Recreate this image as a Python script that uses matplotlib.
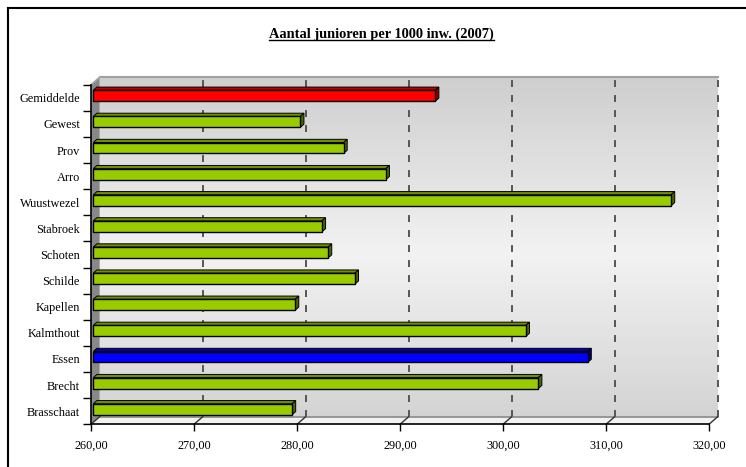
import matplotlib
matplotlib.use("Agg")
import matplotlib.pyplot as plt
import numpy as np
from matplotlib.lines import Line2D
from matplotlib.patches import Polygon
from matplotlib.transforms import IdentityTransform

plt.rcParams["font.family"] = ["Liberation Serif", "DejaVu Serif"]
plt.rcParams["lines.scale_dashes"] = False

# Data, bottom to top as drawn
categories = ["Brasschaat", "Brecht", "Essen", "Kalmthout", "Kapellen", "Schilde",
              "Schoten", "Stabroek", "Wuustwezel", "Arro", "Prov", "Gewest", "Gemiddelde"]
values = [279.3, 303.2, 308.0, 302.0, 279.6, 285.4, 282.8, 282.2, 316.1, 288.4, 284.3, 280.1, 293.2]
x_ticks = [260, 270, 280, 290, 300, 310, 320]
title = "Aantal junioren per 1000 inw. (2007)"

# front / top / side colours for the pseudo-3D bars
palette = {
    "green": ("#99cc00", "#6f8f00", "#4d6600"),
    "red": ("#ff0000", "#c00000", "#8c0000"),
    "blue": ("#0000ff", "#0000b0", "#000080"),
}
highlight = {"Essen": "blue", "Gemiddelde": "red"}

W, H = 746, 467
fig = plt.figure(figsize=(W / 100, H / 100), dpi=100)
ax = fig.add_axes([91 / W, (H - 424.3) / H, 618 / W, 339.6 / H])
ax.patch.set_visible(False)

x0, x1 = x_ticks[0], x_ticks[-1]
n = len(categories)
ylo, yhi = -0.5, n - 0.5

# pixel offsets of the oblique projection, converted to data units
px_x = (x1 - x0) / 618
px_y = n / 339.6
DX, DY = 8.7 * px_x, 7.6 * px_y   # full depth of the box
FX, FY = 2.3 * px_x, 2.0 * px_y   # depth of the bar front faces
BX, BY = 3.6 * px_x, 3.2 * px_y   # thickness of the bars

# back wall with vertical grey gradient
g = np.linspace(0, 1, 256)
light = np.interp(g, [0, 0.48, 1], [0.83, 0.95, 0.81])
grad = np.repeat(light[:, None, None], 3, axis=2)
ax.imshow(grad, extent=(x0 + DX, x1 + DX, ylo + DY, yhi + DY), origin="lower",
          aspect="auto", interpolation="bilinear", clip_on=False, zorder=0)
ax.plot([x0 + DX, x1 + DX], [yhi + DY, yhi + DY], color="#a0a0a0", lw=1.5,
        clip_on=False, zorder=1)

# dashed gridlines on the back wall
for v in x_ticks[1:]:
    ax.plot([v + DX, v + DX], [ylo + DY, yhi + DY], color="#555555", lw=1.4,
            ls=(0, (5.0, 5.8)), clip_on=False, zorder=1)

# left side wall
ax.add_patch(Polygon([(x0, ylo), (x0, yhi), (x0 + DX, yhi + DY), (x0 + DX, ylo + DY)],
                     closed=True, fc="#888888", ec="none", clip_on=False, zorder=1))
ax.plot([x0, x0 + DX], [yhi, yhi + DY], color="#a8a8a8", lw=1.2, clip_on=False, zorder=1)

# floor
ax.add_patch(Polygon([(x0, ylo), (x1, ylo), (x1 + DX, ylo + DY), (x0 + DX, ylo + DY)],
                     closed=True, fc="#f2f2f2", ec="none", clip_on=False, zorder=1))
ax.plot([x0 + DX, x1 + DX], [ylo + DY, ylo + DY], color="#888888", lw=1.2,
        clip_on=False, zorder=1.5)
for v in x_ticks:
    ax.plot([v, v + DX], [ylo, ylo + DY], color="#333333", lw=1.0, clip_on=False, zorder=1.5)

# bars
ypos = np.arange(n)
h = 0.42
fronts = [palette[highlight.get(c, "green")][0] for c in categories]
ax.barh(ypos + FY, [v - x0 for v in values], left=x0 + FX, height=h,
        color=fronts, edgecolor="black", lw=1.0, zorder=3)
for i, (c, v) in enumerate(zip(categories, values)):
    _, top_c, side_c = palette[highlight.get(c, "green")]
    yb = i + FY - h / 2
    yt = i + FY + h / 2
    xs, xe = x0 + FX, v + FX
    ax.add_patch(Polygon([(xs, yt), (xe, yt), (xe + BX, yt + BY), (xs + BX, yt + BY)],
                         closed=True, fc=top_c, ec="black", lw=0.7, zorder=2.8))
    ax.add_patch(Polygon([(xe, yb), (xe, yt), (xe + BX, yt + BY), (xe + BX, yb + BY)],
                         closed=True, fc=side_c, ec="black", lw=0.7, zorder=2.8))

ax.set_xlim(x0, x1)
ax.set_ylim(ylo, yhi)

# axes and ticks
for s in ["top", "right"]:
    ax.spines[s].set_visible(False)
for s in ["left", "bottom"]:
    ax.spines[s].set_color("black")
    ax.spines[s].set_linewidth(1.2)
    ax.spines[s].set_zorder(4)

ax.set_yticks(ypos)
ax.set_yticklabels(categories, fontsize=8.8)
ax.set_yticks(np.arange(ylo, yhi + 0.01, 1.0), minor=True)
ax.tick_params(axis="y", which="major", length=0, pad=8)
ax.tick_params(axis="y", which="minor", length=6, width=1, color="black")

ax.set_xticks(x_ticks)
ax.set_xticklabels([f"{v:.2f}".replace(".", ",") for v in x_ticks], fontsize=8.8)
ax.tick_params(axis="x", which="major", length=5, width=1, color="black", pad=6)

# title, underlined
t = fig.text(381.5 / W, 1 - 34 / H, title, ha="center", va="center",
             fontsize=10.4, fontweight="bold")
fig.canvas.draw()
bb = t.get_window_extent()
fig.add_artist(Line2D([bb.x0, bb.x1], [bb.y0 + 1.0, bb.y0 + 1.0], color="black",
                      lw=1.0, transform=IdentityTransform()))

# chart frame (left and top edge visible)
fig.add_artist(Line2D([8 / W, 8 / W], [0, 1 - 8 / H], color="black", lw=1.5))
fig.add_artist(Line2D([8 / W, 1], [1 - 8 / H, 1 - 8 / H], color="black", lw=1.5))

fig.savefig("out.png", dpi=100)
